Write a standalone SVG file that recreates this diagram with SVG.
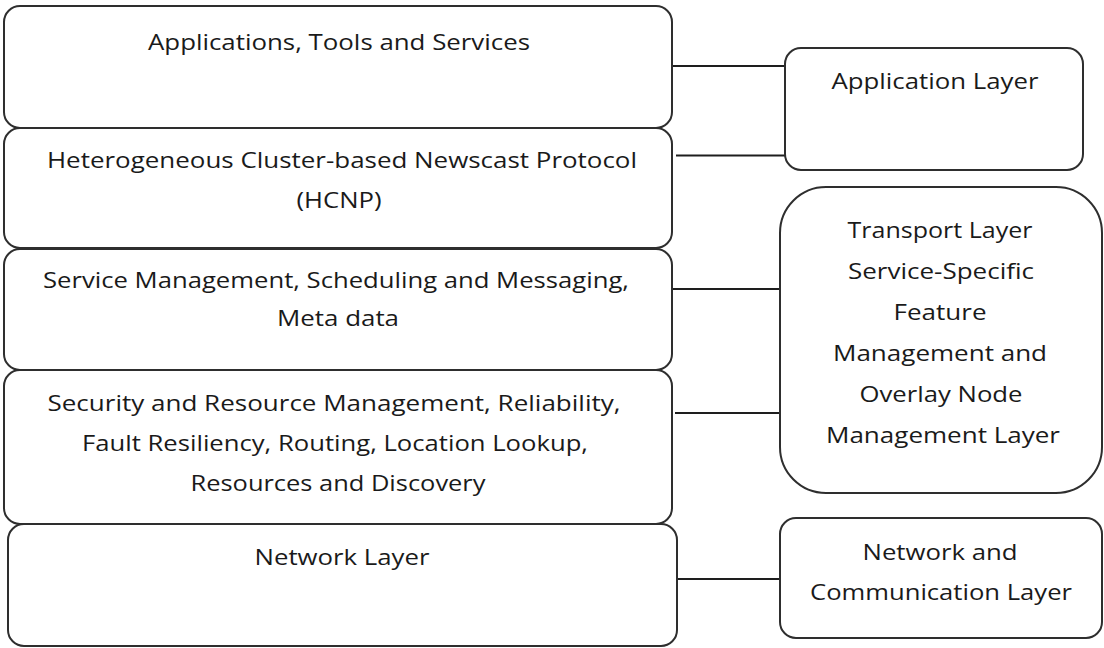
<svg xmlns="http://www.w3.org/2000/svg" width="1104" height="648" viewBox="0 0 1104 648">
<style>
.box{fill:#ffffff;stroke:#2e2e2e;stroke-width:2}
.con{stroke:#1e1e1e;stroke-width:2;fill:none}
text{font-family:"Open Sans","Liberation Sans",sans-serif;font-size:21px;fill:#1a1a1a;text-anchor:middle}
</style>
<rect width="1104" height="648" fill="#ffffff"/>
<g id="connectors">
<line class="con" x1="672" y1="66" x2="785" y2="66"/>
<line class="con" x1="676" y1="155.5" x2="786" y2="155.5"/>
<line class="con" x1="672" y1="289" x2="781" y2="289"/>
<line class="con" x1="675" y1="413" x2="781" y2="413"/>
<line class="con" x1="677" y1="579" x2="781" y2="579"/>
</g>
<g id="applications">
<rect class="box" x="4" y="6" width="668" height="122" rx="16"/>
<text x="339" y="50" textLength="382" lengthAdjust="spacingAndGlyphs">Applications, Tools and Services</text>
</g>
<g id="hcnp">
<rect class="box" x="4" y="128" width="668" height="120" rx="16"/>
<text x="342" y="168" textLength="590" lengthAdjust="spacingAndGlyphs">Heterogeneous Cluster-based Newscast Protocol</text>
<text x="339" y="208" textLength="85" lengthAdjust="spacingAndGlyphs">(HCNP)</text>
</g>
<g id="service">
<rect class="box" x="4" y="249" width="668" height="121" rx="16"/>
<text x="336" y="288" textLength="586" lengthAdjust="spacingAndGlyphs">Service Management, Scheduling and Messaging,</text>
<text x="338" y="326" textLength="122" lengthAdjust="spacingAndGlyphs">Meta data</text>
</g>
<g id="security">
<rect class="box" x="4" y="370" width="668" height="154" rx="16"/>
<text x="334" y="411" textLength="573" lengthAdjust="spacingAndGlyphs">Security and Resource Management, Reliability,</text>
<text x="335" y="451" textLength="506" lengthAdjust="spacingAndGlyphs">Fault Resiliency, Routing, Location Lookup,</text>
<text x="338" y="491" textLength="295" lengthAdjust="spacingAndGlyphs">Resources and Discovery</text>
</g>
<g id="network">
<rect class="box" x="8" y="524" width="669" height="122" rx="16"/>
<text x="342" y="565" textLength="175" lengthAdjust="spacingAndGlyphs">Network Layer</text>
</g>
<g id="application-layer">
<rect class="box" x="785" y="48" width="298" height="122" rx="16"/>
<text x="935" y="89" textLength="207" lengthAdjust="spacingAndGlyphs">Application Layer</text>
</g>
<g id="transport-layer">
<rect class="box" x="780" y="187" width="322" height="306" rx="46"/>
<text x="940" y="238" textLength="185" lengthAdjust="spacingAndGlyphs">Transport Layer</text>
<text x="941" y="279" textLength="186" lengthAdjust="spacingAndGlyphs">Service-Specific</text>
<text x="940" y="320" textLength="93" lengthAdjust="spacingAndGlyphs">Feature</text>
<text x="940" y="361" textLength="214" lengthAdjust="spacingAndGlyphs">Management and</text>
<text x="941" y="402" textLength="163" lengthAdjust="spacingAndGlyphs">Overlay Node</text>
<text x="943" y="443" textLength="234" lengthAdjust="spacingAndGlyphs">Management Layer</text>
</g>
<g id="network-communication">
<rect class="box" x="780" y="518" width="322" height="120" rx="16"/>
<text x="940" y="560" textLength="155" lengthAdjust="spacingAndGlyphs">Network and</text>
<text x="941" y="600" textLength="262" lengthAdjust="spacingAndGlyphs">Communication Layer</text>
</g>
</svg>
